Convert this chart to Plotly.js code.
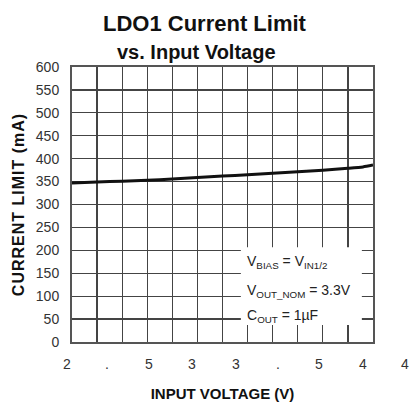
<!DOCTYPE html>
<html>
<head>
<meta charset="utf-8">
<script src="https://cdn.plot.ly/plotly-3.0.1.min.js"></script>
<style>
  html, body { margin: 0; padding: 0; background: #fff; }
  #chart { width: 415px; height: 406px; }
  .g-ytitle text { letter-spacing: 1px; }
</style>
</head>
<body>
<div id="chart"></div>
<script>
// Input voltage (V) along the curve
const inputVoltage = [2.00, 2.25, 2.50, 2.75, 3.00, 3.25, 3.50, 3.75, 4.00, 4.25, 4.50, 4.75, 4.90, 5.00];
// Current limit (mA)
const currentLimit = [347, 349, 351, 353, 355.5, 359, 362, 365, 368, 371.5, 375, 379, 382, 386];

// Tick labels as printed under the x axis (garbled in the original)
const xTickText = ['2', '.', '5', '3', '3', '.', '5', '4', '4'];
const xTickPos = [1.947, 2.352, 2.767, 3.199, 3.635, 4.050, 4.462, 4.897, 5.319];

// Condition notes inside the plot
const notes = [
  'V<sub>BIAS</sub> = V<sub>IN1/2</sub>',
  'V<sub>OUT_NOM</sub> = 3.3V',
  'C<sub>OUT</sub> = 1µF'
];
const noteY = [0.291, 0.185, 0.094];

const titleLines = ['LDO1 Current Limit', 'vs. Input Voltage'];

const xRange = [2, 5];
const FONT = 'Liberation Sans, Arial, sans-serif';

const trace = {
  x: inputVoltage,
  y: currentLimit,
  type: 'scatter',
  mode: 'lines',
  line: { color: '#111', width: 3, shape: 'spline', smoothing: 0.6 },
  hoverinfo: 'x+y'
};

const toPaperX = v => (v - xRange[0]) / (xRange[1] - xRange[0]);

const annotations = [];
xTickText.forEach((t, i) => {
  annotations.push({
    text: t, x: toPaperX(xTickPos[i]), xref: 'paper', y: 0, yref: 'paper',
    yanchor: 'middle', xanchor: 'center', yshift: -22, showarrow: false,
    font: { family: FONT, size: 14, color: '#333' }
  });
});
notes.forEach((t, i) => {
  annotations.push({
    text: t, x: 0.575, xref: 'paper', y: noteY[i], yref: 'paper',
    xanchor: 'left', yanchor: 'middle', showarrow: false,
    font: { family: FONT, size: 14, color: '#222' }
  });
});
annotations.push({
  text: '<b>' + titleLines[0] + '</b>', x: (205 - 72) / 301, xref: 'paper', y: 1.16, yref: 'paper',
  showarrow: false, xanchor: 'center', yanchor: 'middle',
  font: { family: FONT, size: 22, color: '#111' }
});
annotations.push({
  text: '<b>' + titleLines[1] + '</b>', x: (196 - 72) / 301, xref: 'paper', y: 1.056, yref: 'paper',
  showarrow: false, xanchor: 'center', yanchor: 'middle',
  font: { family: FONT, size: 20, color: '#111' }
});

const layout = {
  width: 415, height: 406,
  margin: { l: 72, r: 42, t: 67, b: 64 },
  paper_bgcolor: '#fff', plot_bgcolor: '#fff',
  showlegend: false,
  font: { family: FONT, color: '#333' },
  xaxis: {
    range: xRange, dtick: 0.25, tick0: 2,
    showgrid: true, gridcolor: '#444', gridwidth: 1.2,
    showticklabels: false, ticks: '',
    zeroline: false,
    showline: true, mirror: true, linecolor: '#555', linewidth: 2,
    title: { text: '<b>INPUT VOLTAGE (V)</b>', font: { family: FONT, size: 15, color: '#111' }, standoff: 45 }
  },
  yaxis: {
    range: [0, 600], dtick: 50, tick0: 0,
    showgrid: true, gridcolor: '#444', gridwidth: 1.2,
    ticks: 'outside', ticklen: 8, tickcolor: 'rgba(0,0,0,0)',
    tickfont: { family: FONT, size: 14, color: '#333' },
    zeroline: false,
    showline: true, mirror: true, linecolor: '#555', linewidth: 2,
    title: { text: '<b>CURRENT LIMIT (mA)</b>', font: { family: FONT, size: 16, color: '#111' }, standoff: 7 }
  },
  shapes: [{
    type: 'rect', xref: 'paper', yref: 'paper', layer: 'above',
    x0: 0.561, x1: 0.963, y0: 0.062, y1: 0.345,
    fillcolor: '#fff', line: { width: 0 }
  }],
  annotations: annotations
};

Plotly.newPlot('chart', [trace], layout, { displayModeBar: false, staticPlot: true });
</script>
</body>
</html>
